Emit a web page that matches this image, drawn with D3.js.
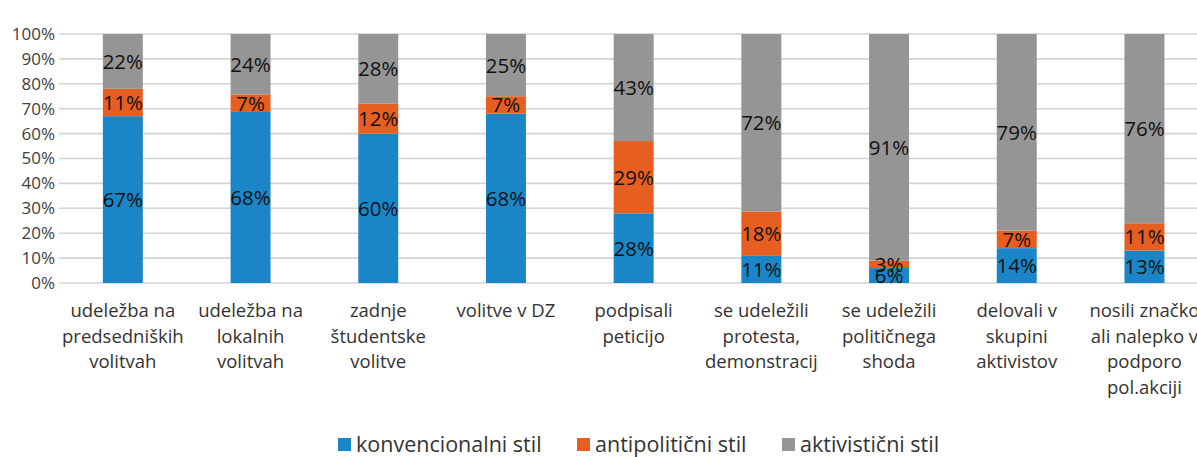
<!DOCTYPE html>
<html>
<head>
<meta charset="utf-8">
<script src="https://cdn.jsdelivr.net/npm/d3@7"></script>
<style>
  body { margin: 0; background: #fff; }
  svg { display: block; font-family: "Open Sans", sans-serif; }
</style>
</head>
<body>
<div id="chart"></div>
<script>
// Data
const categories = [
  ["udeležba na", "predsedniških", "volitvah"],
  ["udeležba na", "lokalnih", "volitvah"],
  ["zadnje", "študentske", "volitve"],
  ["volitve v DZ"],
  ["podpisali", "peticijo"],
  ["se udeležili", "protesta,", "demonstracij"],
  ["se udeležili", "političnega", "shoda"],
  ["delovali v", "skupini", "aktivistov"],
  ["nosili značko", "ali nalepko v", "podporo", "pol.akciji"]
];
const seriesNames = ["konvencionalni stil", "antipolitični stil", "aktivistični stil"];
const konvencionalni = [67, 68, 60, 68, 28, 11, 6, 14, 13];
const antipoliticni = [11, 7, 12, 7, 29, 18, 3, 7, 11];
const aktivisticni = [22, 24, 28, 25, 43, 72, 91, 79, 76];
const yTicks = [0, 0.1, 0.2, 0.3, 0.4, 0.5, 0.6, 0.7, 0.8, 0.9, 1];

const colors = ["#1a86c8", "#e65e20", "#959595"];

// Dimensions
const width = 1197;
const height = 457;
const plot = { left: 59, top: 34, bottom: 283 };

const rows = categories.map((c, i) => ({
  key: i,
  [seriesNames[0]]: konvencionalni[i],
  [seriesNames[1]]: antipoliticni[i],
  [seriesNames[2]]: aktivisticni[i]
}));

const svg = d3.select("#chart")
  .append("svg")
  .attr("width", width)
  .attr("height", height);

// Scales
const x = d3.scaleBand()
  .domain(categories.map((c, i) => i))
  .range([plot.left, plot.left + 9 * 127.7])
  .paddingInner(0.687)
  .paddingOuter(0.3435);

const y = d3.scaleLinear()
  .domain([0, 1])
  .range([plot.bottom, plot.top]);

const stack = d3.stack()
  .keys(seriesNames)
  .offset(d3.stackOffsetExpand);
const stacked = stack(rows);

// Gridlines
svg.append("g")
  .selectAll("line")
  .data(yTicks)
  .enter()
  .append("line")
  .attr("x1", plot.left)
  .attr("x2", width)
  .attr("y1", d => y(d))
  .attr("y2", d => y(d))
  .attr("stroke", "#d4d4d4")
  .attr("stroke-width", 1.6);

// y axis labels
const yAxis = svg.append("g")
  .attr("transform", `translate(${plot.left}, 0)`)
  .call(d3.axisLeft(y).tickValues(yTicks).tickFormat(d3.format(".0%")).tickSize(0).tickPadding(4));
yAxis.select(".domain").remove();
yAxis.selectAll("text")
  .style("font-family", "Open Sans")
  .style("font-size", "17px")
  .attr("fill", "#404040");

// Bars
const layers = svg.selectAll(".layer")
  .data(stacked)
  .enter()
  .append("g")
  .attr("class", "layer")
  .attr("fill", (d, i) => colors[i]);

layers.selectAll("rect")
  .data(d => d)
  .enter()
  .append("rect")
  .attr("x", d => x(d.data.key))
  .attr("y", d => y(d[1]))
  .attr("width", x.bandwidth())
  .attr("height", d => y(d[0]) - y(d[1]));

// Data labels
stacked.forEach((layer, li) => {
  svg.append("g")
    .selectAll("text")
    .data(layer)
    .enter()
    .append("text")
    .attr("x", d => x(d.data.key) + x.bandwidth() / 2)
    .attr("y", d => (y(d[0]) + y(d[1])) / 2)
    .attr("dy", "0.36em")
    .attr("text-anchor", "middle")
    .style("font-size", "20.5px")
    .attr("fill", "#111")
    .text(d => d.data[layer.key] + "%");
});

// Category labels
const catLabels = svg.append("g")
  .selectAll("text")
  .data(categories)
  .enter()
  .append("text")
  .attr("x", (d, i) => x(i) + x.bandwidth() / 2)
  .attr("y", 317)
  .attr("text-anchor", "middle")
  .style("font-size", "18.5px")
  .attr("fill", "#333");

catLabels.selectAll("tspan")
  .data(d => d)
  .enter()
  .append("tspan")
  .attr("x", function () { return d3.select(this.parentNode).attr("x"); })
  .attr("dy", (d, i) => i === 0 ? 0 : 25.5)
  .text(d => d);

// Legend
const legendX = [338, 577, 782];
const legend = svg.append("g")
  .selectAll("g")
  .data(seriesNames)
  .enter()
  .append("g")
  .attr("transform", (d, i) => `translate(${legendX[i]}, 438)`);

legend.append("rect")
  .attr("width", 13)
  .attr("height", 13)
  .attr("fill", (d, i) => colors[i]);

legend.append("text")
  .attr("x", 18)
  .attr("y", 14)
  .style("font-size", "21.5px")
  .attr("fill", "#333")
  .text(d => d);
</script>
</body>
</html>
